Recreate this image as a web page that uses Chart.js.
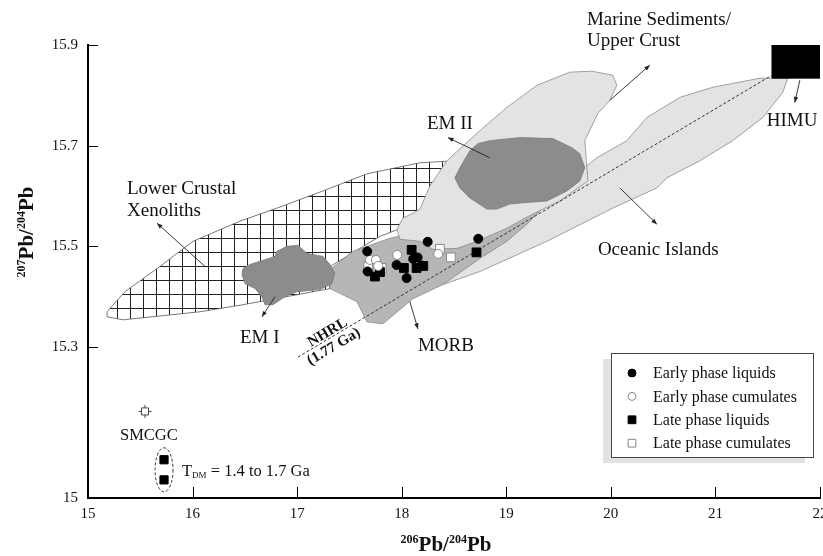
<!DOCTYPE html>
<html>
<head>
<meta charset="utf-8">
<script src="https://cdn.jsdelivr.net/npm/chart.js@4.4.0/dist/chart.umd.min.js"></script>
<style>
  html, body { margin: 0; padding: 0; background: #fff; }
</style>
</head>
<body>
<canvas id="pb-chart" width="823" height="556"></canvas>
<script>
// axis ticks
const xTicks = [15, 16, 17, 18, 19, 20, 21, 22];
const yTicks = [15, 15.3, 15.5, 15.7, 15.9];

// samples, [206Pb/204Pb, 207Pb/204Pb]
const earlyLiquids = [[17.67, 15.49], [17.674, 15.45], [17.951, 15.463], [18.047, 15.437], [18.11, 15.475],
  [18.152, 15.478], [18.19, 15.462], [18.248, 15.509], [18.732, 15.515]];
const earlyCumulates = [[17.696, 15.473], [17.753, 15.473], [17.775, 15.461], [17.957, 15.483], [18.349, 15.485]];
const lateLiquids = [[17.744, 15.44], [17.792, 15.449], [18.021, 15.457], [18.095, 15.493], [18.142, 15.457],
  [18.206, 15.461], [18.715, 15.488]];
const lateCumulates = [[17.68, 15.46], [17.808, 15.457], [18.365, 15.495], [18.47, 15.478]];
const tdmSamples = [[15.727, 15.076], [15.727, 15.036]];
const smcgc = [[15.545, 15.172]];

// reference line
const nhrl = [[17.008, 15.28], [21.54, 15.84]];

// source fields (outlines)
const lowerCrust = [[15.182, 15.37], [15.354, 15.41], [15.688, 15.46], [16.004, 15.51], [16.453, 15.55], [16.807, 15.576],
  [17.247, 15.61], [17.667, 15.644], [18.174, 15.666], [18.509, 15.67], [18.652, 15.66], [18.461, 15.59],
  [18.174, 15.55], [17.792, 15.52], [17.314, 15.46], [17.314, 15.416], [16.482, 15.384], [16.071, 15.37],
  [15.335, 15.354], [15.182, 15.36]];
const oceanic = [[18.394, 15.424], [18.748, 15.45], [19.388, 15.51], [20.019, 15.576], [20.44, 15.616], [20.535, 15.636],
  [20.851, 15.67], [21.166, 15.71], [21.453, 15.756], [21.644, 15.806], [21.692, 15.834], [21.424, 15.834],
  [20.975, 15.816], [20.66, 15.796], [20.344, 15.756], [20.153, 15.71], [19.866, 15.676], [19.771, 15.66],
  [19.369, 15.59], [18.939, 15.52], [18.556, 15.46]];
const morb = [[17.314, 15.454], [17.533, 15.49], [17.887, 15.516], [18.174, 15.53], [18.556, 15.546], [18.939, 15.566],
  [19.321, 15.594], [19.656, 15.626], [19.78, 15.646], [19.369, 15.58], [19.197, 15.544], [19.006, 15.51],
  [18.748, 15.476], [18.394, 15.424], [18.107, 15.396], [17.82, 15.346], [17.667, 15.35], [17.572, 15.39],
  [17.314, 15.416]];
const marine = [[19.293, 15.82], [19.608, 15.846], [19.818, 15.848], [20.019, 15.84], [20.057, 15.82], [19.99, 15.79],
  [19.876, 15.764], [19.751, 15.71], [19.78, 15.63], [19.512, 15.59], [19.369, 15.576], [19.178, 15.556],
  [19.006, 15.536], [18.719, 15.51], [18.528, 15.496], [18.298, 15.494], [18.174, 15.51], [17.983, 15.514],
  [17.954, 15.534], [18.011, 15.556], [18.107, 15.566], [18.174, 15.574], [18.27, 15.62], [18.432, 15.67],
  [18.748, 15.73], [19.006, 15.776]];
const em2 = [[18.509, 15.636], [18.556, 15.656], [18.652, 15.69], [18.728, 15.704], [18.843, 15.71], [19.13, 15.716],
  [19.446, 15.714], [19.627, 15.696], [19.704, 15.684], [19.751, 15.656], [19.704, 15.63], [19.579, 15.61],
  [19.388, 15.59], [19.13, 15.586], [19.034, 15.584], [18.91, 15.574], [18.815, 15.574], [18.652, 15.596],
  [18.556, 15.616]];
const em1 = [[16.482, 15.456], [16.549, 15.464], [16.788, 15.48], [16.807, 15.49], [16.902, 15.5], [17.008, 15.502],
  [17.094, 15.486], [17.247, 15.48], [17.314, 15.464], [17.361, 15.446], [17.333, 15.426], [17.218, 15.414],
  [16.998, 15.41], [16.883, 15.4], [16.769, 15.384], [16.692, 15.384], [16.663, 15.4], [16.597, 15.416],
  [16.501, 15.426], [16.472, 15.444]];
const himu = [[21.54, 15.9], [22.0, 15.9], [22.0, 15.834], [21.54, 15.834]];

// annotation text and pointers (data coordinates)
const regionLabels = [
  ['Marine Sediments/', 19.771, 15.94],
  ['Upper Crust', 19.771, 15.898],
  ['HIMU', 21.491, 15.74],
  ['EM II', 18.241, 15.734],
  ['Lower Crustal', 15.373, 15.604],
  ['Xenoliths', 15.373, 15.56],
  ['EM I', 16.453, 15.308],
  ['MORB', 18.155, 15.292],
  ['Oceanic Islands', 19.876, 15.482],
  ['SMCGC', 15.306, 15.116]
];
const pointers = [
  [16.119, 15.46, 15.66, 15.546],
  [16.788, 15.40, 16.663, 15.36],
  [18.843, 15.676, 18.442, 15.716],
  [19.99, 15.79, 20.373, 15.86],
  [21.807, 15.83, 21.759, 15.786],
  [20.086, 15.616, 20.44, 15.544],
  [18.078, 15.39, 18.155, 15.336]
];
const legendNames = ['Early phase liquids', 'Early phase cumulates', 'Late phase liquids', 'Late phase cumulates'];

const serif = '"Liberation Serif", "Times New Roman", serif';
const toXY = arr => arr.map(p => ({ x: p[0], y: p[1] }));

// grid pattern for the xenolith field
const hatchCanvas = document.createElement('canvas');
hatchCanvas.width = 13;
hatchCanvas.height = 14;
const hc = hatchCanvas.getContext('2d');
hc.fillStyle = '#fff';
hc.fillRect(0, 0, 13, 14);
hc.fillStyle = '#222';
hc.fillRect(0, 0, 1, 14);
hc.fillRect(0, 0, 13, 1);
const hatch = document.getElementById('pb-chart').getContext('2d').createPattern(hatchCanvas, 'repeat');

function field(label, pts, fillColor, borderColor, order) {
  return {
    label,
    data: toXY(pts.concat([pts[0]])),
    showLine: true,
    fill: 'shape',
    backgroundColor: fillColor,
    borderColor: borderColor,
    borderWidth: 0.8,
    pointRadius: 0,
    order
  };
}

function samples(label, pts, style, radius, fillColor, borderColor) {
  return {
    label,
    data: toXY(pts),
    pointStyle: style,
    pointRadius: radius,
    backgroundColor: fillColor,
    borderColor: borderColor,
    borderWidth: 1,
    order: 0
  };
}

function drawArrow(ctx, x1, y1, x2, y2) {
  const a = Math.atan2(y2 - y1, x2 - x1);
  ctx.beginPath();
  ctx.moveTo(x1, y1);
  ctx.lineTo(x2, y2);
  ctx.stroke();
  ctx.beginPath();
  ctx.moveTo(x2, y2);
  ctx.lineTo(x2 - 6 * Math.cos(a - 0.38), y2 - 6 * Math.sin(a - 0.38));
  ctx.lineTo(x2 - 6 * Math.cos(a + 0.38), y2 - 6 * Math.sin(a + 0.38));
  ctx.closePath();
  ctx.fill();
}

// 206Pb/204Pb style title with superscripts
function drawIsoTitle(ctx, parts, cx, cy, angle) {
  ctx.save();
  ctx.translate(cx, cy);
  ctx.rotate(angle);
  let total = 0;
  const widths = parts.map(p => {
    ctx.font = (p.sup ? 'bold 12px ' : 'bold 21px ') + serif;
    const w = ctx.measureText(p.t).width;
    total += w;
    return w;
  });
  let pos = -total / 2;
  ctx.textAlign = 'left';
  ctx.textBaseline = 'alphabetic';
  parts.forEach((p, i) => {
    ctx.font = (p.sup ? 'bold 12px ' : 'bold 21px ') + serif;
    ctx.fillText(p.t, pos, p.sup ? -8 : 0);
    pos += widths[i];
  });
  ctx.restore();
}

const annotate = {
  id: 'annotate',
  afterDraw(chart) {
    const { ctx, chartArea: area, scales: { x, y } } = chart;
    const X = v => x.getPixelForValue(v);
    const Y = v => y.getPixelForValue(v);
    ctx.save();

    // inward tick marks
    ctx.strokeStyle = '#000';
    ctx.lineWidth = 1;
    xTicks.slice(1).forEach(v => {
      const px = Math.round(X(v)) + 0.5;
      ctx.beginPath();
      ctx.moveTo(px, area.bottom);
      ctx.lineTo(px, area.bottom - 11);
      ctx.stroke();
    });
    yTicks.slice(1).forEach(v => {
      const py = Math.round(Y(v)) + 0.5;
      ctx.beginPath();
      ctx.moveTo(area.left, py);
      ctx.lineTo(area.left + 10, py);
      ctx.stroke();
    });

    // pointers
    ctx.strokeStyle = '#222';
    ctx.fillStyle = '#222';
    ctx.lineWidth = 0.9;
    pointers.forEach(p => drawArrow(ctx, X(p[0]), Y(p[1]), X(p[2]), Y(p[3])));

    // field labels
    ctx.fillStyle = '#111';
    ctx.textAlign = 'left';
    ctx.textBaseline = 'alphabetic';
    regionLabels.forEach(l => {
      ctx.font = (l[0] === 'SMCGC' ? '16.5px ' : '19px ') + serif;
      ctx.fillText(l[0], X(l[1]), Y(l[2]));
    });

    // NHRL label along the line
    const p1 = { x: X(nhrl[0][0]), y: Y(nhrl[0][1]) };
    const p2 = { x: X(nhrl[1][0]), y: Y(nhrl[1][1]) };
    const ang = Math.atan2(p2.y - p1.y, p2.x - p1.x);
    ctx.save();
    ctx.translate(p1.x, p1.y);
    ctx.rotate(ang);
    ctx.font = 'bold 15px ' + serif;
    ctx.textAlign = 'center';
    ctx.textBaseline = 'alphabetic';
    ctx.fillText('NHRL', 38, -2);
    ctx.textBaseline = 'top';
    ctx.fillText('(1.77 Ga)', 36, 2);
    ctx.restore();

    // model age group
    const ex = X(tdmSamples[0][0]);
    const ey = (Y(tdmSamples[0][1]) + Y(tdmSamples[1][1])) / 2;
    ctx.save();
    ctx.setLineDash([3, 2]);
    ctx.strokeStyle = '#333';
    ctx.lineWidth = 1;
    ctx.beginPath();
    ctx.ellipse(ex, ey, 9, 22, 0, 0, Math.PI * 2);
    ctx.stroke();
    ctx.restore();
    let tx = ex + 18;
    const ty = ey + 6;
    ctx.font = '16.5px ' + serif;
    ctx.fillText('T', tx, ty);
    tx += ctx.measureText('T').width;
    ctx.font = '9px ' + serif;
    ctx.fillText('DM', tx, ty + 2);
    tx += ctx.measureText('DM').width;
    ctx.font = '16.5px ' + serif;
    ctx.fillText(' = 1.4 to 1.7 Ga', tx, ty);

    // legend box
    const bx = 611, by = 353, bw = 202, bh = 104;
    ctx.fillStyle = '#e2e2e2';
    ctx.fillRect(bx - 8, by + 6, bw, bh);
    ctx.fillStyle = '#fff';
    ctx.fillRect(bx, by, bw, bh);
    ctx.strokeStyle = '#444';
    ctx.lineWidth = 1;
    ctx.strokeRect(bx + 0.5, by + 0.5, bw, bh);
    const marks = [
      { pointStyle: 'circle', radius: 4, fill: '#000', stroke: '#000' },
      { pointStyle: 'circle', radius: 4, fill: '#fff', stroke: '#888' },
      { pointStyle: 'rect', radius: 5.5, fill: '#000', stroke: '#000' },
      { pointStyle: 'rect', radius: 5.5, fill: '#fff', stroke: '#888' }
    ];
    legendNames.forEach((name, i) => {
      const ry = by + 20 + i * 23.4;
      ctx.fillStyle = marks[i].fill;
      ctx.strokeStyle = marks[i].stroke;
      ctx.lineWidth = 1;
      Chart.helpers.drawPoint(ctx, { pointStyle: marks[i].pointStyle, radius: marks[i].radius, rotation: 0, borderWidth: 1 }, bx + 21, ry);
      ctx.fillStyle = '#111';
      ctx.font = '16px ' + serif;
      ctx.textBaseline = 'middle';
      ctx.fillText(name, bx + 42, ry + 1);
    });
    ctx.textBaseline = 'alphabetic';

    // axis titles
    ctx.fillStyle = '#111';
    drawIsoTitle(ctx, [{ t: '206', sup: true }, { t: 'Pb/' }, { t: '204', sup: true }, { t: 'Pb' }], 446, 551, 0);
    drawIsoTitle(ctx, [{ t: '207', sup: true }, { t: 'Pb/' }, { t: '204', sup: true }, { t: 'Pb' }], 33, 232, -Math.PI / 2);

    ctx.restore();
  }
};

new Chart(document.getElementById('pb-chart'), {
  type: 'scatter',
  data: {
    datasets: [
      samples('Early phase liquids', earlyLiquids, 'circle', 4.5, '#000', '#000'),
      samples('Early phase cumulates', earlyCumulates, 'circle', 4.5, '#fff', '#8a8a8a'),
      samples('Late phase liquids', lateLiquids, 'rect', 6.2, '#000', '#000'),
      samples('Late phase cumulates', lateCumulates, 'rect', 6.2, '#fff', '#8a8a8a'),
      samples('TDM samples', tdmSamples, 'rect', 5.8, '#000', '#000'),
      samples('SMCGC', smcgc, 'rect', 5, '#fff', '#444'),
      { ...samples('SMCGC cross', smcgc, 'cross', 6.5, '#444', '#444'), order: 0 },
      {
        label: 'NHRL',
        data: toXY(nhrl),
        showLine: true,
        borderColor: '#333',
        borderWidth: 1,
        borderDash: [3, 2],
        pointRadius: 0,
        order: 1
      },
      field('HIMU', himu, '#000', '#000', 2),
      field('EM I', em1, '#8c8c8c', '#7a7a7a', 2),
      field('EM II', em2, '#8c8c8c', '#7a7a7a', 3),
      field('Marine Sediments/Upper Crust', marine, '#e3e3e3', '#8a8a8a', 4),
      field('MORB', morb, '#b6b6b6', '#8a8a8a', 5),
      field('Oceanic Islands', oceanic, '#e3e3e3', '#8a8a8a', 6),
      field('Lower Crustal Xenoliths', lowerCrust, hatch, '#555', 7)
    ]
  },
  options: {
    responsive: false,
    animation: false,
    layout: { autoPadding: false, padding: { top: 45, right: 3, left: 0, bottom: 0 } },
    plugins: {
      legend: { display: false },
      tooltip: { enabled: false }
    },
    scales: {
      x: {
        type: 'linear',
        min: 15,
        max: 22,
        afterFit: s => { s.height = 58; s.paddingLeft = 0; s.paddingRight = 0; },
        afterBuildTicks: s => { s.ticks = xTicks.map(v => ({ value: v })); },
        grid: { display: true, drawOnChartArea: false, drawTicks: false },
        border: { display: true, color: '#000', width: 2 },
        ticks: { color: '#111', padding: 7, font: { family: serif, size: 15 }, callback: v => String(v) }
      },
      y: {
        type: 'linear',
        min: 15,
        max: 15.9,
        afterFit: s => { s.width = 88; s.paddingTop = 0; s.paddingBottom = 0; },
        afterBuildTicks: s => { s.ticks = yTicks.map(v => ({ value: v })); },
        grid: { display: true, drawOnChartArea: false, drawTicks: false },
        border: { display: true, color: '#000', width: 2 },
        ticks: { color: '#111', padding: 10, font: { family: serif, size: 15 }, callback: v => String(v) }
      }
    }
  },
  plugins: [annotate]
});
</script>
</body>
</html>
